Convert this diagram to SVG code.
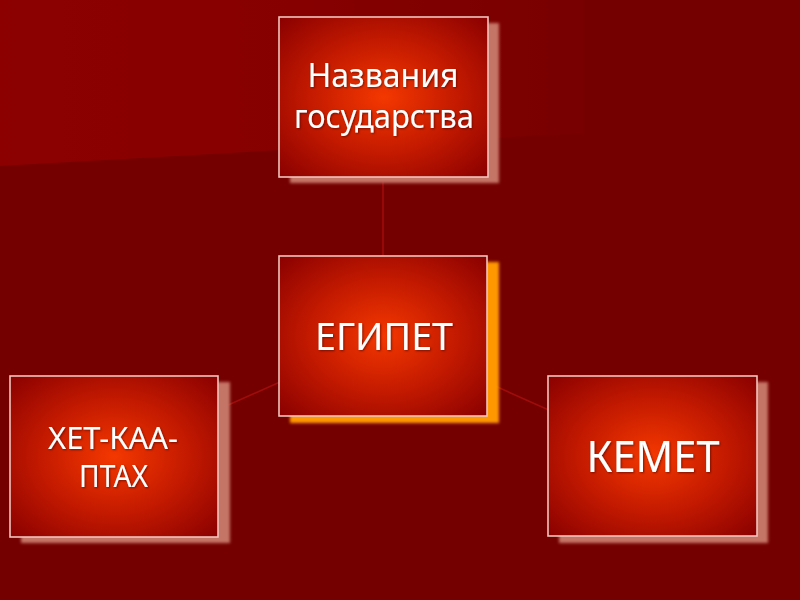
<svg xmlns="http://www.w3.org/2000/svg" width="800" height="600" viewBox="0 0 800 600">
<defs>
<radialGradient id="boxg" cx="50%" cy="50%" r="70%">
<stop offset="0" stop-color="#f43800"/>
<stop offset="0.5" stop-color="#c41a00"/>
<stop offset="1" stop-color="#8a0000"/>
</radialGradient>
<linearGradient id="bgl" x1="0" y1="0" x2="583" y2="0" gradientUnits="userSpaceOnUse">
<stop offset="0" stop-color="#8c0000"/>
<stop offset="0.5" stop-color="#870000"/>
<stop offset="1" stop-color="#780000"/>
</linearGradient>
<filter id="blur" x="-10%" y="-10%" width="120%" height="120%">
<feGaussianBlur stdDeviation="1.5"/>
</filter>
<filter id="ts" x="-10%" y="-20%" width="120%" height="140%">
<feDropShadow dx="1" dy="1" stdDeviation="0.8" flood-color="#400000" flood-opacity="0.6"/>
</filter>
<style>
.box{fill:url(#boxg);stroke:#f2c4bc;stroke-width:1.6}
.sh{fill:#c57565;filter:url(#blur)}
.sho{fill:#ff9800;filter:url(#blur)}
.t{font-family:"Noto Sans","Open Sans","DejaVu Sans",sans-serif;fill:#ffffff;text-anchor:middle;filter:url(#ts)}
.ln{stroke:#a00c0c;stroke-width:1.6;fill:none}
</style>
</defs>
<rect x="0" y="0" width="800" height="600" fill="#740000"/>
<polygon points="0,0 583,0 583,133 0,166" fill="url(#bgl)"/>
<g id="connectors">
<line class="ln" x1="383" y1="177" x2="383" y2="256"/>
<line class="ln" x1="383" y1="336" x2="114" y2="456"/>
<line class="ln" x1="383" y1="336" x2="652" y2="456"/>
</g>
<g id="node-top">
<rect class="sh" x="290" y="23" width="209" height="160"/>
<rect class="box" x="279" y="17" width="209" height="160"/>
<text class="t" x="383" y="87" font-size="33" textLength="151" lengthAdjust="spacingAndGlyphs">Названия</text>
<text class="t" x="384" y="128" font-size="33" textLength="180" lengthAdjust="spacingAndGlyphs">государства</text>
</g>
<g id="node-center">
<rect class="sho" x="290" y="262" width="209" height="161"/>
<rect class="box" x="279" y="256" width="208" height="160"/>
<text class="t" x="384" y="350" font-size="38" textLength="138" lengthAdjust="spacingAndGlyphs">ЕГИПЕТ</text>
</g>
<g id="node-left">
<rect class="sh" x="21" y="382" width="209" height="161"/>
<rect class="box" x="10" y="376" width="208" height="161"/>
<text class="t" x="113" y="449" font-size="30" textLength="130" lengthAdjust="spacingAndGlyphs">ХЕТ-КАА-</text>
<text class="t" x="113.5" y="487" font-size="30" textLength="69" lengthAdjust="spacingAndGlyphs">ПТАХ</text>
</g>
<g id="node-right">
<rect class="sh" x="559" y="382" width="209" height="161"/>
<rect class="box" x="548" y="376" width="209" height="160"/>
<text class="t" x="653" y="472" font-size="44" textLength="133" lengthAdjust="spacingAndGlyphs">КЕМЕТ</text>
</g>
</svg>
